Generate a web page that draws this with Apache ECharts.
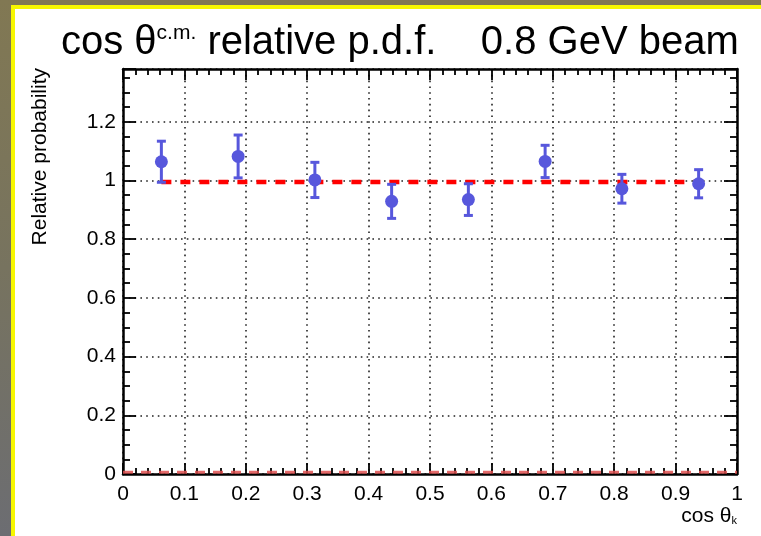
<!DOCTYPE html>
<html>
<head>
<meta charset="utf-8">
<script src="https://cdn.jsdelivr.net/npm/echarts@6/dist/echarts.min.js"></script>
<style>html,body{margin:0;padding:0;}#c{width:761px;height:536px;}</style>
</head>
<body>
<div id="c"></div>
<script>
const binCenters = [0.0625, 0.1875, 0.3125, 0.4375, 0.5625, 0.6875, 0.8125, 0.9375];
const values = [1.064, 1.082, 1.002, 0.929, 0.935, 1.065, 0.972, 0.989];
const errors = [0.070, 0.073, 0.060, 0.058, 0.054, 0.055, 0.049, 0.048];
const fitLevel = 0.995;
const fitRange = [0.0625, 0.9375];
const baseLevel = 0.006;
const baseRange = [0, 1];
const xTicks = [0, 0.1, 0.2, 0.3, 0.4, 0.5, 0.6, 0.7, 0.8, 0.9, 1];
const yTicks = [0, 0.2, 0.4, 0.6, 0.8, 1, 1.2];

const FONT = 'Liberation Sans, Arial, sans-serif';
const chart = echarts.init(document.getElementById('c'), null, {renderer: 'canvas'});

const pts = binCenters.map((x, i) => [x, values[i], errors[i]]);

const fmt = v => {
  const r = Math.round(v * 10) / 10;
  return (Number.isInteger(r) ? String(r) : r.toFixed(1));
};

const commonX = {
  type: 'value', min: 0, max: 1, interval: 0.1,
  axisLine: {show: true, onZero: false, lineStyle: {color: '#000', width: 2.5}},
  axisTick: {show: true, inside: true, length: 11, lineStyle: {color: '#000', width: 1.8}},
  minorTick: {show: true, splitNumber: 5, length: 6, lineStyle: {color: '#000', width: 1.8}}
};
const commonY = {
  type: 'value', min: 0, max: 1.38, interval: 0.2,
  axisLine: {show: true, onZero: false, lineStyle: {color: '#000', width: 2.5}},
  axisTick: {show: true, inside: true, length: 13, lineStyle: {color: '#000', width: 1.8}},
  minorTick: {show: true, splitNumber: 4, length: 7, lineStyle: {color: '#000', width: 1.8}}
};

const option = {
  animation: false,
  textStyle: {fontFamily: FONT},
  graphic: [
    {type: 'rect', z: -100, shape: {x: 0, y: 0, width: 761, height: 536},
     style: {fill: new echarts.graphic.LinearGradient(0, 0, 0, 1, [
       {offset: 0, color: '#817853'}, {offset: 0.5, color: '#77735f'}, {offset: 1, color: '#6c6d72'}])}},
    {type: 'rect', z: -99, shape: {x: 11, y: 5, width: 750, height: 531}, style: {fill: '#f7f700'}},
    {type: 'rect', z: -98, shape: {x: 15, y: 9, width: 746, height: 527}, style: {fill: '#ffffff'}},
    {type: 'text', z: 10, x: 40, y: 68, rotation: Math.PI / 2,
     style: {text: 'Relative probability', fontFamily: FONT, fontSize: 21, fill: '#000',
             textAlign: 'right', textVerticalAlign: 'middle'}},
    {type: 'text', z: 10, x: 737, y: 516,
     style: {text: '{a|cos θ}{k|k}', fontFamily: FONT, textAlign: 'right', textVerticalAlign: 'middle',
             rich: {a: {fontSize: 21, fontFamily: FONT, fill: '#000'},
                    k: {fontSize: 11, fontFamily: FONT, fill: '#000', verticalAlign: 'bottom', padding: [10, 0, 0, 0]}}}}
  ],
  title: {
    left: 56, top: 18,
    text: '{a|cos θ}{s|c.m.}{a| relative p.d.f.    0.8 GeV beam}',
    textStyle: {
      fontFamily: FONT, fontWeight: 'normal',
      rich: {
        a: {fontSize: 40, fontFamily: FONT, fontWeight: 'normal', color: '#000'},
        s: {fontSize: 21, fontFamily: FONT, fontWeight: 'normal', color: '#000', verticalAlign: 'top'}
      }
    }
  },
  grid: {left: 123, right: 24, top: 69, bottom: 62, containLabel: false},
  xAxis: [
    Object.assign({}, commonX, {
      position: 'bottom',
      axisLabel: {show: true, fontSize: 21, color: '#000', margin: 10, fontFamily: FONT, formatter: fmt},
      splitLine: {show: true, lineStyle: {color: '#222', width: 1.6, type: [1.6, 4.2]}}
    }),
    Object.assign({}, commonX, {
      position: 'top', axisLabel: {show: false}, splitLine: {show: false}
    })
  ],
  yAxis: [
    Object.assign({}, commonY, {
      position: 'left',
      axisLabel: {show: true, fontSize: 21, color: '#000', margin: 7, fontFamily: FONT, formatter: fmt,
                  showMaxLabel: false},
      splitLine: {show: true, lineStyle: {color: '#222', width: 1.6, type: [1.6, 4.2]}}
    }),
    Object.assign({}, commonY, {
      position: 'right', axisLabel: {show: false}, splitLine: {show: false}
    })
  ],
  series: [
    {
      type: 'line', xAxisIndex: 0, yAxisIndex: 0, z: 1,
      data: [[baseRange[0], baseLevel], [baseRange[1], baseLevel]],
      symbol: 'none', silent: true,
      lineStyle: {color: 'rgba(222,80,80,0.85)', width: 3, type: [10, 8]}
    },
    {
      type: 'line', xAxisIndex: 0, yAxisIndex: 0, z: 3,
      data: [[fitRange[0], fitLevel], [fitRange[1], fitLevel]],
      symbol: 'none', silent: true,
      lineStyle: {color: '#ff0000', width: 4.5, type: [10, 9]}
    },
    {
      type: 'custom', xAxisIndex: 0, yAxisIndex: 0, z: 4,
      data: pts,
      renderItem: function (params, api) {
        const x = api.value(0), y = api.value(1), e = api.value(2);
        const top = api.coord([x, y + e]);
        const bot = api.coord([x, y - e]);
        const cap = 4.5;
        const st = {stroke: '#5757dc', lineWidth: 3};
        return {
          type: 'group',
          children: [
            {type: 'line', shape: {x1: top[0], y1: top[1], x2: bot[0], y2: bot[1]}, style: st},
            {type: 'line', shape: {x1: top[0] - cap, y1: top[1], x2: top[0] + cap, y2: top[1]}, style: st},
            {type: 'line', shape: {x1: bot[0] - cap, y1: bot[1], x2: bot[0] + cap, y2: bot[1]}, style: st}
          ]
        };
      }
    },
    {
      type: 'scatter', xAxisIndex: 0, yAxisIndex: 0, z: 5,
      data: pts.map(p => [p[0], p[1]]),
      symbol: 'circle', symbolSize: 13,
      itemStyle: {color: '#5757dc', opacity: 1}
    }
  ]
};
chart.setOption(option);
</script>
</body>
</html>
